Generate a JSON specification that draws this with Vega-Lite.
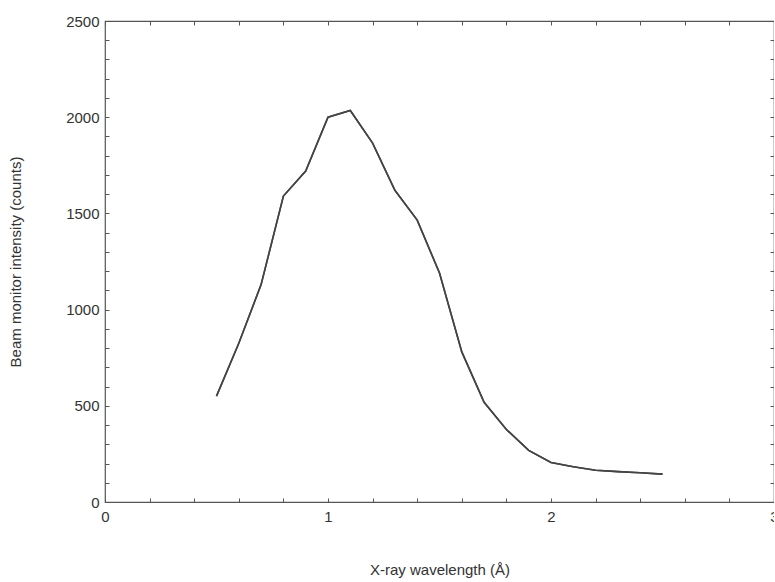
{
  "$schema": "https://vega.github.io/schema/vega-lite/v6.json",
  "autosize": "none",
  "width": 669,
  "height": 481,
  "padding": {"left": 105, "top": 21, "right": 0, "bottom": 80},
  "background": "white",
  "config": {
    "view": {"stroke": "#555", "strokeWidth": 1.2},
    "axis": {
      "labelFont": "Liberation Sans",
      "titleFont": "Liberation Sans",
      "labelFontSize": 15,
      "titleFontSize": 15,
      "titleFontWeight": "normal",
      "labelColor": "#333",
      "titleColor": "#333",
      "grid": false,
      "domain": false,
      "tickColor": "#555",
      "tickSize": -4,
      "tickWidth": 1,
      "labelFlush": false,
      "labelOverlap": false,
      "labelBound": false
    }
  },
  "data": {
    "values": [
      {"wl": 0.5, "counts": 550},
      {"wl": 0.6, "counts": 825},
      {"wl": 0.7, "counts": 1130},
      {"wl": 0.8, "counts": 1590},
      {"wl": 0.9, "counts": 1720},
      {"wl": 1.0, "counts": 2000},
      {"wl": 1.1, "counts": 2035},
      {"wl": 1.2, "counts": 1865},
      {"wl": 1.3, "counts": 1620},
      {"wl": 1.4, "counts": 1465},
      {"wl": 1.5, "counts": 1190},
      {"wl": 1.6, "counts": 780},
      {"wl": 1.7, "counts": 518},
      {"wl": 1.8, "counts": 377},
      {"wl": 1.9, "counts": 268},
      {"wl": 2.0, "counts": 205},
      {"wl": 2.1, "counts": 183},
      {"wl": 2.2, "counts": 165},
      {"wl": 2.3, "counts": 158},
      {"wl": 2.4, "counts": 152},
      {"wl": 2.5, "counts": 145}
    ]
  },
  "resolve": {"axis": {"x": "independent", "y": "independent"}},
  "layer": [
    {
      "mark": {"type": "line", "color": "#444", "strokeWidth": 1.6},
      "encoding": {
        "x": {
          "field": "wl", "type": "quantitative",
          "scale": {"domain": [0, 3], "nice": false},
          "axis": {
            "orient": "bottom",
            "title": "X-ray wavelength (Å)",
            "values": [0, 0.2, 0.4, 0.6, 0.8, 1, 1.2, 1.4, 1.6, 1.8, 2, 2.2, 2.4, 2.6, 2.8, 3],
            "labelExpr": "abs(datum.value - round(datum.value)) < 0.001 ? format(datum.value, 'd') : ''",
            "labelPadding": 11,
            "titlePadding": 38
          }
        },
        "y": {
          "field": "counts", "type": "quantitative",
          "scale": {"domain": [0, 2500], "nice": false},
          "axis": {
            "orient": "left",
            "title": "Beam monitor intensity (counts)",
            "values": [0,100,200,300,400,500,600,700,800,900,1000,1100,1200,1300,1400,1500,1600,1700,1800,1900,2000,2100,2200,2300,2400,2500],
            "labelExpr": "datum.value % 500 == 0 ? format(datum.value, 'd') : ''",
            "labelPadding": 10,
            "titlePadding": 42
          }
        }
      }
    },
    {
      "mark": {"type": "line", "color": "#444", "strokeWidth": 1.6},
      "encoding": {
        "x": {
          "field": "wl", "type": "quantitative",
          "scale": {"domain": [0, 3], "nice": false},
          "axis": {
            "orient": "top",
            "title": null,
            "labels": false,
            "values": [0, 0.2, 0.4, 0.6, 0.8, 1, 1.2, 1.4, 1.6, 1.8, 2, 2.2, 2.4, 2.6, 2.8, 3]
          }
        },
        "y": {
          "field": "counts", "type": "quantitative",
          "scale": {"domain": [0, 2500], "nice": false},
          "axis": {
            "orient": "right",
            "title": null,
            "labels": false,
            "values": [0,100,200,300,400,500,600,700,800,900,1000,1100,1200,1300,1400,1500,1600,1700,1800,1900,2000,2100,2200,2300,2400,2500]
          }
        }
      }
    }
  ]
}
